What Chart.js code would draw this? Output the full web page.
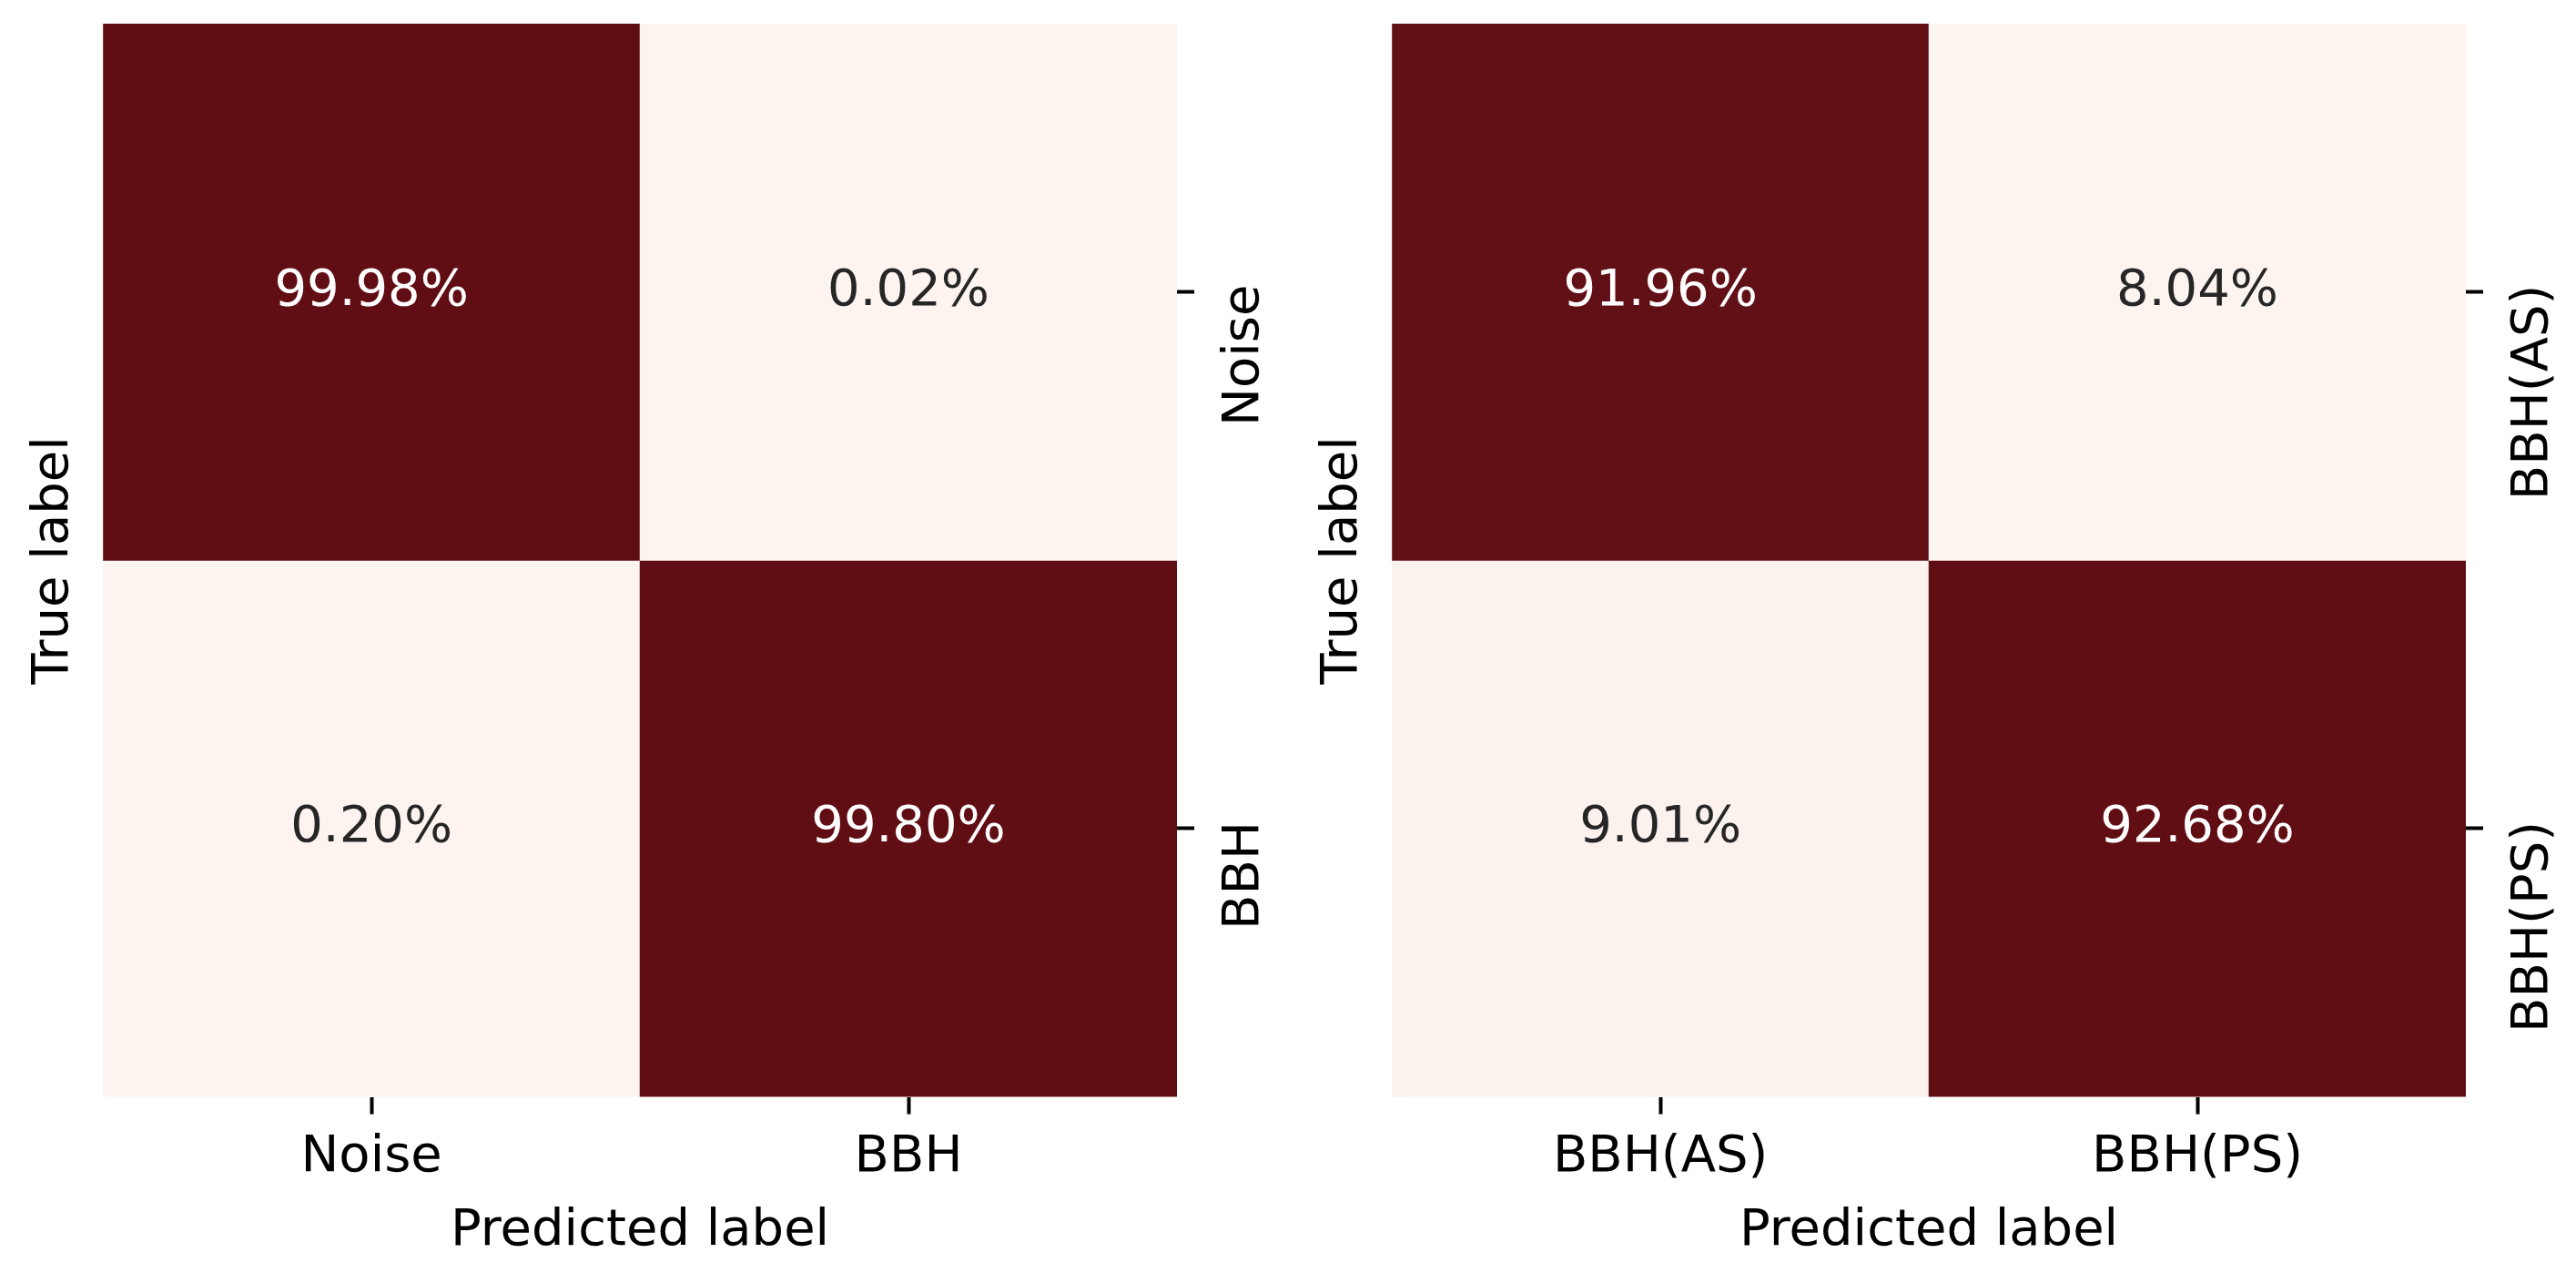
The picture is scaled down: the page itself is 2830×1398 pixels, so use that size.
<!DOCTYPE html>
<html>
<head>
<meta charset="utf-8">
<script src="https://cdn.jsdelivr.net/npm/chart.js@4"></script>
<style>
  html, body { margin: 0; padding: 0; background: #fff; }
  body { width: 2830px; height: 1398px; position: relative; overflow: hidden; }
  .panel { position: absolute; top: 0; width: 1415px; height: 1398px; }
</style>
</head>
<body>
<div class="panel" style="left:0"><canvas id="binaryChart" width="1415" height="1398"></canvas></div>
<div class="panel" style="left:1416px"><canvas id="sourceChart" width="1415" height="1398"></canvas></div>
<script>
// Left matrix: noise vs BBH
const binaryLabels = ['Noise', 'BBH'];
const binaryNoiseRow = [99.98, 0.02];
const binaryBbhRow = [0.20, 99.80];

// Right matrix: BBH(AS) vs BBH(PS)
const sourceLabels = ['BBH(AS)', 'BBH(PS)'];
const sourceAsRow = [91.96, 8.04];
const sourcePsRow = [9.01, 92.68];

const LIGHT = [253, 244, 240];
const DARK = [96, 14, 20];
const FONT_SIZE = 56;

Chart.defaults.font.family = "'DejaVu Sans', sans-serif";
Chart.defaults.font.size = FONT_SIZE;
Chart.defaults.color = '#000';

function cellColor(v, min, max) {
    const t = max > min ? (v - min) / (max - min) : 0;
    const c = LIGHT.map((l, i) => Math.round(l + (DARK[i] - l) * t));
    return { fill: `rgb(${c[0]}, ${c[1]}, ${c[2]})`, dark: t > 0.5 };
}

// writes the percentage in the middle of each cell
const cellText = {
    id: 'cellText',
    afterDatasetsDraw(chart) {
        const ctx = chart.ctx;
        ctx.save();
        ctx.font = `${FONT_SIZE}px 'DejaVu Sans', sans-serif`;
        ctx.textAlign = 'center';
        ctx.textBaseline = 'middle';
        chart.data.datasets.forEach((ds, di) => {
            const meta = chart.getDatasetMeta(di);
            meta.data.forEach((bar, i) => {
                const { x, y } = bar.getCenterPoint();
                ctx.fillStyle = ds.textColors[i];
                ctx.fillText(ds.percent[i].toFixed(2) + '%', x, y);
            });
        });
        ctx.restore();
    }
};

// rotated row labels on the right side, ending just above each tick
const rightLabels = {
    id: 'rightLabels',
    afterDraw(chart) {
        const scale = chart.scales.y2;
        const ctx = chart.ctx;
        const labels = chart.options.plugins.rightLabels.labels;
        ctx.save();
        ctx.font = `${FONT_SIZE}px 'DejaVu Sans', sans-serif`;
        ctx.fillStyle = '#000';
        ctx.textAlign = 'right';
        ctx.textBaseline = 'top';
        labels.forEach((label, i) => {
            const y = scale.getPixelForValue(i + 0.5);
            ctx.save();
            ctx.translate(chart.chartArea.right + 19 + 27, y - 8);
            ctx.rotate(-Math.PI / 2);
            ctx.fillText(label, 0, 0);
            ctx.restore();
        });
        ctx.restore();
    }
};

function drawMatrix(canvasId, labels, rows) {
    const all = rows.flat();
    const min = Math.min(...all);
    const max = Math.max(...all);

    const datasets = rows.map((row, r) => {
        const colors = row.map(v => cellColor(v, min, max));
        return {
            label: labels[r],
            data: row.map(() => 1),
            percent: row,
            backgroundColor: colors.map(c => c.fill),
            textColors: colors.map(c => c.dark ? '#ffffff' : '#262626'),
            borderWidth: 0,
            barPercentage: 1,
            categoryPercentage: 1
        };
    });

    const tickGrid = {
        display: true,
        offset: false,
        drawOnChartArea: false,
        drawTicks: true,
        tickLength: 19,
        tickWidth: 4,
        tickColor: '#000'
    };

    return new Chart(document.getElementById(canvasId), {
        type: 'bar',
        data: { labels: labels, datasets: datasets },
        options: {
            responsive: false,
            animation: false,
            events: [],
            layout: { padding: { left: 26, right: 103, top: 26, bottom: 12 } },
            plugins: {
                legend: { display: false },
                tooltip: { enabled: false },
                rightLabels: { labels: labels }
            },
            scales: {
                x: {
                    stacked: true,
                    offset: true,
                    border: { display: false },
                    grid: tickGrid,
                    ticks: { padding: 14, color: '#000', maxRotation: 0 },
                    title: {
                        display: true,
                        text: 'Predicted label',
                        color: '#000',
                        padding: { top: 0, bottom: 0 }
                    }
                },
                y: {
                    stacked: true,
                    reverse: true,
                    min: 0,
                    max: labels.length,
                    border: { display: false },
                    grid: { display: false, drawTicks: false },
                    ticks: { display: false },
                    title: {
                        display: true,
                        text: 'True label',
                        color: '#000',
                        padding: { top: 0, bottom: 20 }
                    }
                },
                y2: {
                    type: 'linear',
                    position: 'right',
                    reverse: true,
                    min: 0,
                    max: labels.length,
                    border: { display: false },
                    grid: tickGrid,
                    ticks: { display: false },
                    afterBuildTicks: axis => {
                        axis.ticks = labels.map((_, i) => ({ value: i + 0.5 }));
                    }
                }
            }
        },
        plugins: [cellText, rightLabels]
    });
}

drawMatrix('binaryChart', binaryLabels, [binaryNoiseRow, binaryBbhRow]);
drawMatrix('sourceChart', sourceLabels, [sourceAsRow, sourcePsRow]);
</script>
</body>
</html>
